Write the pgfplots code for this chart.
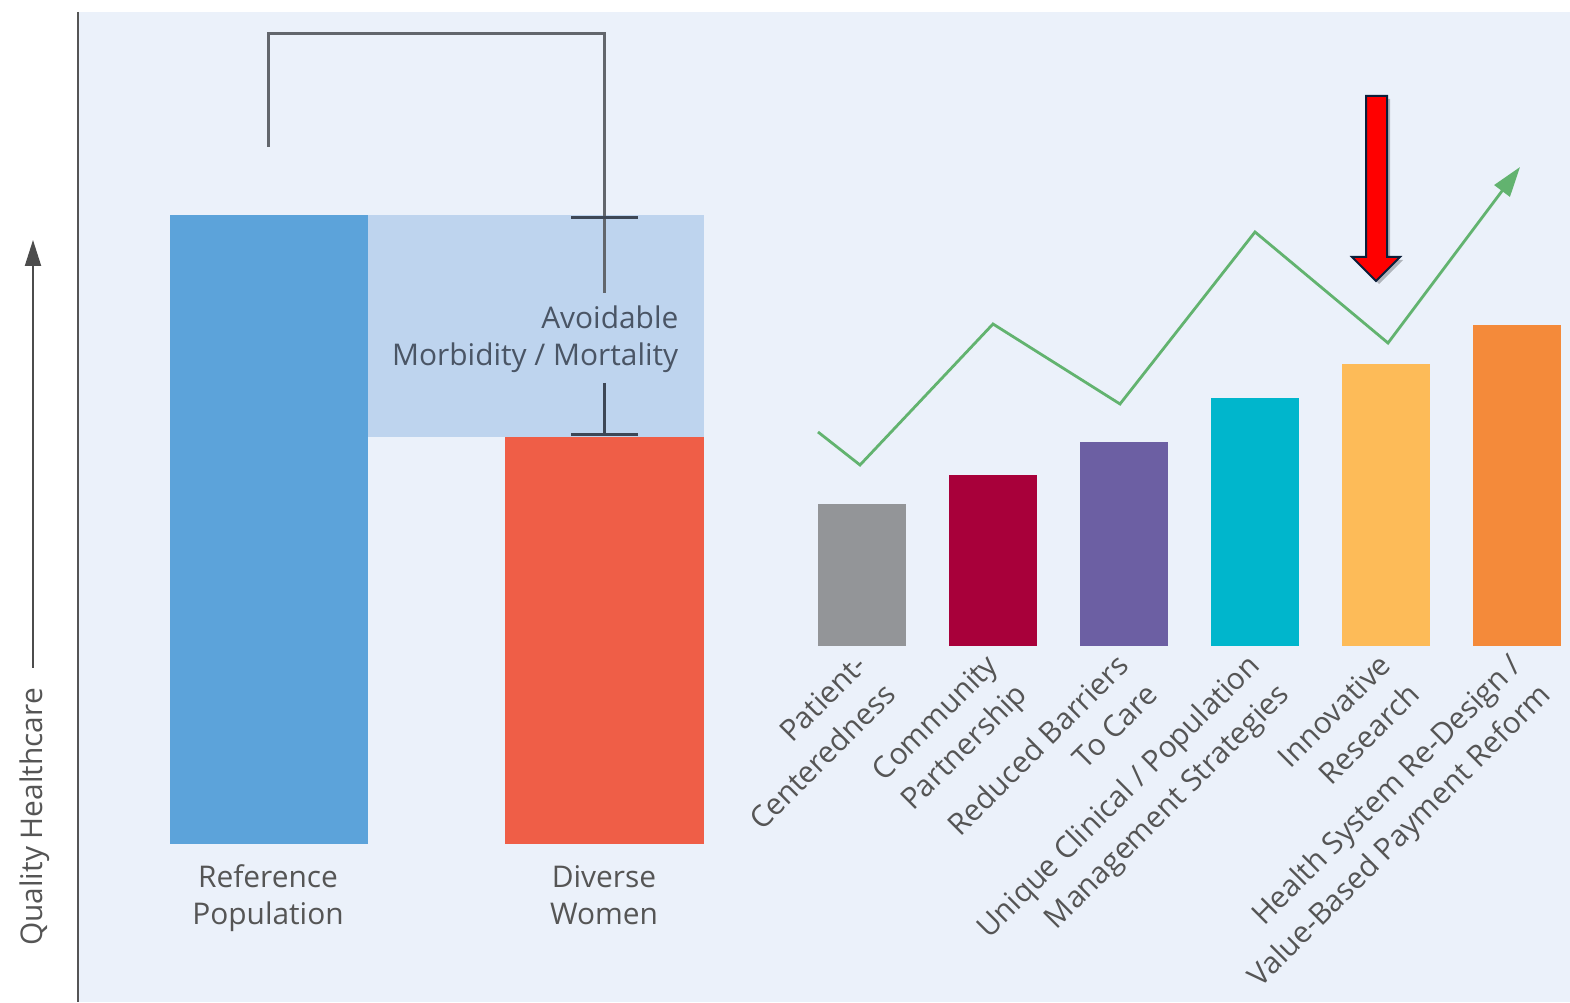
\documentclass[border=0pt]{standalone}
\usepackage{pgfplots}
\pgfplotsset{compat=1.18}
\usepackage{fontspec}
\setmainfont{Open Sans}
\usetikzlibrary{arrows.meta}
\definecolor{bg}{HTML}{EBF1FA}
\definecolor{refblue}{HTML}{5CA3DA}
\definecolor{gapblue}{HTML}{BED4EE}
\definecolor{divred}{HTML}{EF5E47}
\definecolor{b1}{HTML}{939598}
\definecolor{b2}{HTML}{A8003A}
\definecolor{b3}{HTML}{6C5FA3}
\definecolor{b4}{HTML}{00B6CC}
\definecolor{b5}{HTML}{FDBB58}
\definecolor{b6}{HTML}{F48A3A}
\definecolor{trend}{HTML}{62B36F}
\definecolor{brk}{HTML}{62666C}
\definecolor{brkdark}{HTML}{3D4756}
\definecolor{txt}{HTML}{555555}
\definecolor{txtdark}{HTML}{4A5565}
\definecolor{navy}{HTML}{0B1F3A}
\begin{document}
\begin{tikzpicture}
\begin{axis}[width=15.7cm,height=10.02cm,scale only axis,
  xmin=0,xmax=1570,ymin=0,ymax=1002,y dir=reverse,hide axis,clip=false]
% page and panel background
\addplot[fill=white,draw=none] coordinates {(0,0)(1570,0)(1570,1002)(0,1002)} -- cycle;
\addplot[fill=bg,draw=none] coordinates {(78,12)(1570,12)(1570,1002)(78,1002)} -- cycle;
\addplot[draw=txt,line width=0.2mm] coordinates {(78,12)(78,1002)};
% y axis label and arrow
\addplot[draw=txt!90!black,line width=0.2mm,-{Triangle[length=2.6mm,width=1.6mm]}] coordinates {(33,668)(33,240)};
\node[rotate=90,anchor=base,font=\fontsize{8.5}{11}\selectfont,text=txt,inner sep=0] at (axis cs:42,817) {Quality Healthcare};
% main bars
\addplot[fill=gapblue,draw=none] coordinates {(368,215)(704,215)(704,437)(368,437)} -- cycle;
\addplot[fill=refblue,draw=none] coordinates {(170,215)(368,215)(368,844)(170,844)} -- cycle;
\addplot[fill=divred,draw=none] coordinates {(505,437)(704,437)(704,844)(505,844)} -- cycle;
% bracket
\addplot[draw=brk,line width=0.3mm] coordinates {(268,147)(268,34)(604,34)(604,293)};
\addplot[draw=brkdark,line width=0.3mm] coordinates {(571,218)(638,218)};
\addplot[draw=brkdark,line width=0.3mm] coordinates {(604,383)(604,435)};
\addplot[draw=brkdark,line width=0.3mm] coordinates {(571,435)(638,435)};
\node[anchor=base east,font=\fontsize{8.5}{11}\selectfont,text=txtdark,inner sep=0] at (axis cs:679,329) {Avoidable};
\node[anchor=base east,font=\fontsize{8.5}{11}\selectfont,text=txtdark,inner sep=0] at (axis cs:679,366) {Morbidity / Mortality};
\node[anchor=base,font=\fontsize{8.5}{11}\selectfont,text=txt,inner sep=0] at (axis cs:268,888) {Reference};
\node[anchor=base,font=\fontsize{8.5}{11}\selectfont,text=txt,inner sep=0] at (axis cs:268,925) {Population};
\node[anchor=base,font=\fontsize{8.5}{11}\selectfont,text=txt,inner sep=0] at (axis cs:604,888) {Diverse};
\node[anchor=base,font=\fontsize{8.5}{11}\selectfont,text=txt,inner sep=0] at (axis cs:604,925) {Women};
% strategy bars
\addplot[fill=b1,draw=none] coordinates {(818,504)(906,504)(906,646)(818,646)} -- cycle;
\addplot[fill=b2,draw=none] coordinates {(949,475)(1037,475)(1037,646)(949,646)} -- cycle;
\addplot[fill=b3,draw=none] coordinates {(1080,442)(1168,442)(1168,646)(1080,646)} -- cycle;
\addplot[fill=b4,draw=none] coordinates {(1211,398)(1299,398)(1299,646)(1211,646)} -- cycle;
\addplot[fill=b5,draw=none] coordinates {(1342,364)(1430,364)(1430,646)(1342,646)} -- cycle;
\addplot[fill=b6,draw=none] coordinates {(1473,325)(1561,325)(1561,646)(1473,646)} -- cycle;
% trend line
\addplot[draw=trend,line width=0.28mm,line join=miter,-{Triangle[length=3mm,width=1.9mm]}] coordinates {(818,432)(860,465)(993,324)(1120,404)(1255,232)(1388,343)(1520,167)};
% red arrow
\addplot[fill=black,fill opacity=0.25,draw=none] coordinates {(1369,99)(1390,99)(1390,260)(1403,260)(1379,284)(1355,260)(1369,260)} -- cycle;
\addplot[fill=red,draw=navy,line width=0.2mm] coordinates {(1366,96)(1387,96)(1387,257)(1400,257)(1376,281)(1352,257)(1366,257)} -- cycle;
% rotated labels
\tikzset{lab/.style={anchor=base east,rotate=45,font=\fontsize{8.5}{11}\selectfont,text=txt,inner sep=0}}
\node[lab] at (axis cs:869,667) {Patient-};
\node[lab] at (axis cs:898,696) {Centeredness};
\node[lab] at (axis cs:1000,667) {Community};
\node[lab] at (axis cs:1029,696) {Partnership};
\node[lab] at (axis cs:1131,667) {Reduced Barriers};
\node[lab] at (axis cs:1160,696) {To Care};
\node[lab] at (axis cs:1262,667) {Unique Clinical / Population};
\node[lab] at (axis cs:1291,696) {Management Strategies};
\node[lab] at (axis cs:1393,667) {Innovative};
\node[lab] at (axis cs:1422,696) {Research};
\node[lab] at (axis cs:1524,667) {Health System Re-Design /};
\node[lab] at (axis cs:1553,696) {Value-Based Payment Reform};
\end{axis}
\end{tikzpicture}
\end{document}
